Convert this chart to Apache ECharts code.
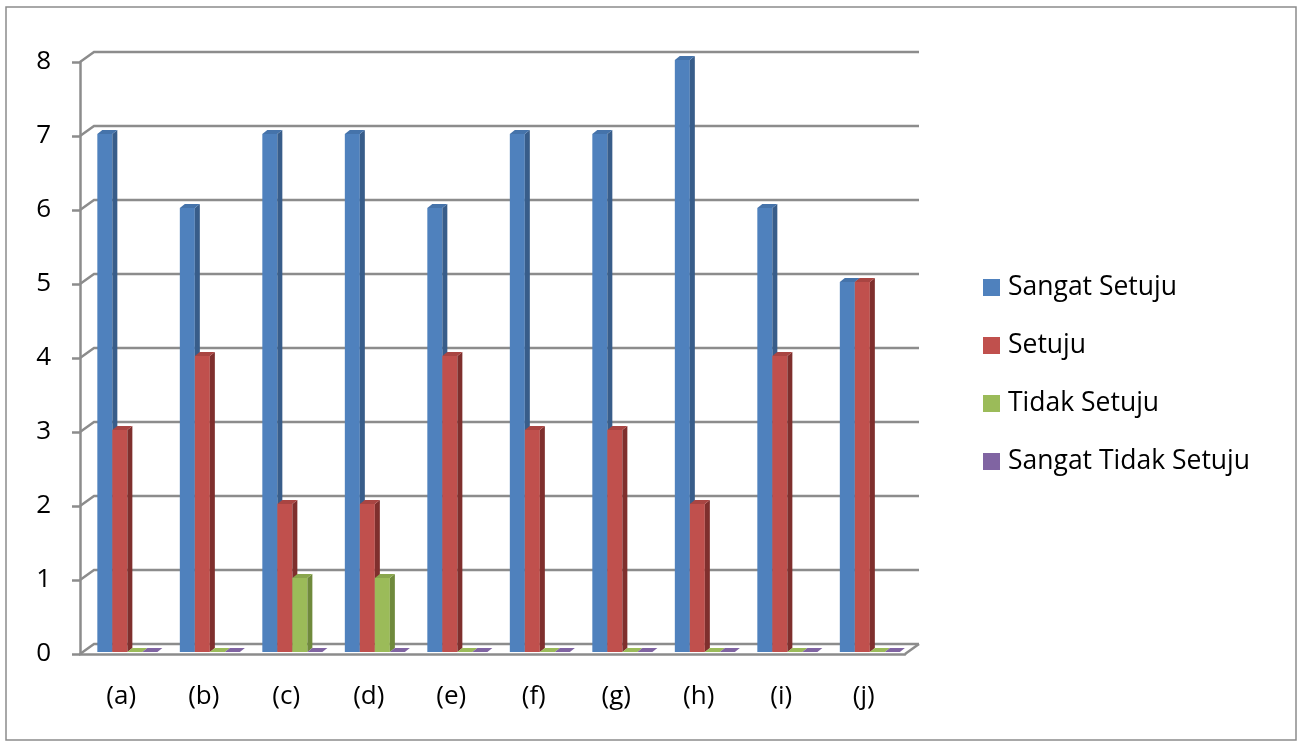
<!DOCTYPE html>
<html>
<head>
<meta charset="utf-8">
<script src="https://cdn.jsdelivr.net/npm/echarts@6/dist/echarts.min.js"></script>
<style>
html,body{margin:0;padding:0;background:#fff;}
#chart{width:1302px;height:746px;}
</style>
</head>
<body>
<div id="chart"></div>
<script>
var categories=['(a)','(b)','(c)','(d)','(e)','(f)','(g)','(h)','(i)','(j)'];
var sangatSetuju=[7,6,7,7,6,7,7,8,6,5];
var setuju=[3,4,2,2,4,3,3,2,4,5];
var tidakSetuju=[0,0,1,1,0,0,0,0,0,0];
var sangatTidakSetuju=[0,0,0,0,0,0,0,0,0,0];
var yTicks=[0,1,2,3,4,5,6,7,8];
var seriesNames=['Sangat Setuju','Setuju','Tidak Setuju','Sangat Tidak Setuju'];
var seriesData=[sangatSetuju,setuju,tidakSetuju,sangatTidakSetuju];

// front, side, top colours
var palette=[
    ['#4F81BD','#385D8A','#4573AA'],
    ['#C0504D','#7F2F2D','#A94542'],
    ['#9BBB59','#6F8A3C','#89A64D'],
    ['#8064A2','#5C4776','#6F5790']
];
var depth=[14,-10];   // back wall offset
var barDepth=[5,-4];  // bar side/top
var barShift=[0,-2];
var font='Open Sans';

var chart=echarts.init(document.getElementById('chart'));

function wallRender(params,api){
    var v=api.value(1);
    var cs=params.coordSys;
    var y=api.coord([0,v])[1];
    var x0=cs.x, x1=cs.x+cs.width;
    var kids=[{
        type:'polyline',
        shape:{points:[[x0,y],[x0+depth[0],y+depth[1]],[x1+depth[0],y+depth[1]]]},
        style:{stroke:'#8c8c8c',lineWidth:2.5,fill:null}
    }];
    if(v===0){
        kids.push({
            type:'line',
            shape:{x1:x1,y1:y,x2:x1+depth[0],y2:y+depth[1]},
            style:{stroke:'#8c8c8c',lineWidth:2.5}
        });
    }
    return {type:'group',children:kids};
}

function barRender(si){
    return function(params,api){
        var c=api.value(0), v=api.value(1);
        var base=api.coord([c,0]);
        var top=api.coord([c,v]);
        var catW=api.size([1,0])[0];
        var bw=catW*0.182;
        var left=base[0]-catW*0.29+si*bw+barShift[0];
        var right=left+bw;
        var yb=base[1]+barShift[1];
        var yt=top[1]+barShift[1];
        var dx=barDepth[0], dy=barDepth[1];
        var col=palette[si];
        var kids=[];
        if(v>0){
            kids.push({type:'rect',shape:{x:left,y:yt,width:bw,height:yb-yt},style:{fill:col[0]}});
            kids.push({type:'polygon',shape:{points:[[right,yt],[right+dx,yt+dy],[right+dx,yb+dy],[right,yb]]},style:{fill:col[1]}});
        }
        kids.push({type:'polygon',shape:{points:[[left,yt],[left+dx,yt+dy],[right+dx,yt+dy],[right,yt]]},style:{fill:v>0?col[2]:col[0]}});
        return {type:'group',children:kids};
    };
}

var series=[{
    name:'wall',
    type:'custom',
    renderItem:wallRender,
    silent:true,
    z:1,
    data:yTicks.map(function(v){return [0,v];})
}];
for(var s=0;s<seriesNames.length;s++){
    series.push({
        name:seriesNames[s],
        type:'custom',
        renderItem:barRender(s),
        itemStyle:{color:palette[s][0]},
        z:2+s,
        data:seriesData[s].map(function(v,i){return [i,v];})
    });
}

var option={
    animation:false,
    textStyle:{fontFamily:font},
    graphic:[{
        type:'rect',
        shape:{x:6,y:7,width:1290,height:733},
        style:{fill:null,stroke:'#8c8c8c',lineWidth:1.5},
        silent:true
    }],
    legend:{
        orient:'vertical',
        left:978,
        top:269,
        itemWidth:17,
        itemHeight:17,
        itemGap:31,
        icon:'rect',
        data:seriesNames,
        textStyle:{fontSize:26.5,color:'#000',fontFamily:font,padding:[0,0,0,3]}
    },
    grid:{left:80,right:397,top:62,bottom:92},
    xAxis:{
        type:'category',
        data:categories,
        axisLine:{lineStyle:{color:'#8c8c8c',width:2.5}},
        axisTick:{length:9,lineStyle:{color:'#8c8c8c',width:2.5}},
        axisLabel:{fontSize:26,color:'#000',margin:30,fontFamily:font},
        splitLine:{show:false}
    },
    yAxis:{
        type:'value',
        min:0,max:8,interval:1,
        axisLine:{show:true,lineStyle:{color:'#8c8c8c',width:2.5}},
        axisTick:{show:true,length:8,lineStyle:{color:'#8c8c8c',width:2.5}},
        axisLabel:{fontSize:26,color:'#000',margin:29,fontFamily:font},
        splitLine:{show:false}
    },
    series:series
};
chart.setOption(option);
</script>
</body>
</html>
